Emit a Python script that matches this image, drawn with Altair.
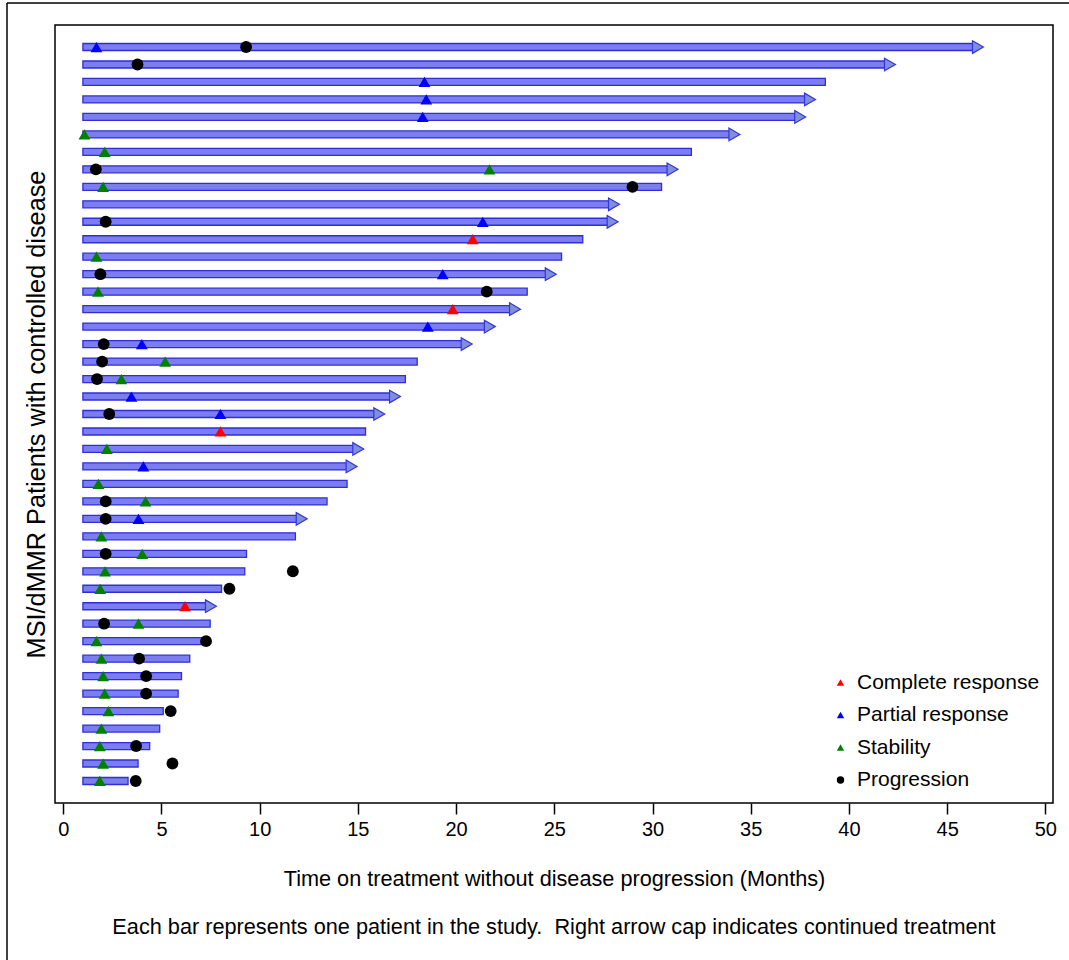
import altair as alt
import pandas as pd

# ---- data ----
rows = list(range(1, 44))
start_month = [1.0] * 43
end_month = [46.85, 42.37, 38.80, 38.30, 37.80, 34.45, 31.98, 31.30, 30.46, 28.32,
             28.25, 26.45, 25.37, 25.10, 23.62, 23.28, 22.00, 20.82, 18.02, 17.42,
             17.17, 16.37, 15.39, 15.30, 14.96, 14.45, 13.43, 12.42, 11.82, 9.33,
             9.24, 8.06, 7.80, 7.48, 7.27, 6.44, 6.02, 5.85, 5.09, 4.91,
             4.40, 3.81, 3.30]
continued = [1, 1, 0, 1, 1, 1, 0, 1, 0, 1,
             1, 0, 0, 1, 0, 1, 1, 1, 0, 0,
             1, 1, 0, 1, 1, 0, 0, 1, 0, 0,
             0, 0, 1, 0, 0, 0, 0, 0, 0, 0,
             0, 0, 0]

event_row = [1, 1, 2, 3, 4, 5, 6, 7, 8, 8, 9, 9, 11, 11, 12, 13, 14, 14, 15, 15,
             16, 17, 18, 18, 19, 19, 20, 20, 21, 22, 22, 23, 24, 25, 26, 27, 27,
             28, 28, 29, 30, 30, 31, 31, 32, 32, 33, 34, 34, 35, 35, 36, 36, 37, 37,
             38, 38, 39, 39, 40, 41, 41, 42, 42, 43, 43]
event_time = [1.69, 9.31, 3.78, 18.39, 18.48, 18.30, 1.08, 2.11, 1.66, 21.70,
              2.03, 28.98, 2.16, 21.36, 20.85, 1.69, 1.89, 19.32, 1.77, 21.56,
              19.83, 18.56, 2.06, 4.00, 1.98, 5.19, 1.72, 2.96, 3.47, 2.34, 8.00,
              8.00, 2.22, 4.08, 1.79, 2.16, 4.19, 2.16, 3.83, 1.94, 2.16, 4.02,
              2.13, 11.69, 1.88, 8.46, 6.20, 2.08, 3.83, 1.69, 7.27, 1.94, 3.86,
              2.03, 4.22, 2.11, 4.22, 2.30, 5.47, 1.94, 1.86, 3.71, 2.03, 5.56,
              1.86, 3.69]
CR, PR, SD, PD = "Complete response", "Partial response", "Stability", "Progression"
event_type = [PR, PD, PD, PR, PR, PR, SD, SD, PD, SD,
              SD, PD, PD, PR, CR, SD, PD, PR, SD, PD,
              CR, PR, PD, PR, PD, SD, PD, SD, PR, PD, PR,
              CR, SD, PR, SD, PD, SD, PD, PR, SD, PD, SD,
              SD, PD, SD, PD, CR, PD, SD, SD, PD, SD, PD,
              SD, PD, SD, PD, SD, PD, SD, SD, PD, SD, PD,
              SD, PD]

legend_order = [CR, PR, SD, PD]
legend_colors = ["#ff0000", "#0000ff", "#008000", "#000000"]
legend_shapes = ["triangle-up", "triangle-up", "triangle-up", "circle"]

x_ticks = list(range(0, 51, 5))
x_title = "Time on treatment without disease progression (Months)"
y_title = "MSI/dMMR Patients with controlled disease"
footnote = ["Each bar represents one patient in the study.\u00a0 Right arrow cap indicates continued treatment"]

bars = pd.DataFrame({"row": rows, "start": start_month, "end": end_month, "cont": continued})
events = pd.DataFrame({"row": event_row, "t": event_time, "type": event_type})
notes = pd.DataFrame({"note": footnote})

REG = "Liberation Sans, Arial, sans-serif"

xscale = alt.Scale(domain=[-0.42, 50.39], nice=False, zero=False, padding=0)
yscale = alt.Scale(domain=[-0.26, 44.26], nice=False, zero=False, reverse=True, padding=0)

xaxis = alt.Axis(values=x_ticks, tickSize=11, tickWidth=1.5, tickColor="black",
                 domain=False, grid=False, labelFont=REG, labelFontSize=20, labelColor="black",
                 labelPadding=5, title=x_title,
                 titleFont=REG, titleFontSize=21.7, titleFontWeight="normal", titleColor="black",
                 titlePadding=29)
yaxis = alt.Axis(labels=False, ticks=False, domain=False, grid=False,
                 title=y_title, titleFont=REG,
                 titleFontSize=25.3, titleFontWeight="normal", titleColor="black", titlePadding=6)

base = alt.Chart(bars)

bar_plain = base.transform_filter("datum.cont == 0").mark_bar(
    orient="horizontal", size=7, fill="#7b7df0", stroke="#2f2fd8", strokeWidth=1.3
).encode(
    x=alt.X("start:Q", scale=xscale, axis=xaxis),
    x2="end:Q",
    y=alt.Y("row:Q", scale=yscale, axis=yaxis),
)
bar_arrow = base.transform_filter("datum.cont == 1").mark_bar(
    orient="horizontal", size=7, fill="#7b7df0", stroke="#2f2fd8", strokeWidth=1.3, x2Offset=-9
).encode(
    x=alt.X("start:Q", scale=xscale),
    x2="end:Q",
    y=alt.Y("row:Q", scale=yscale),
)
arrows = base.transform_filter("datum.cont == 1").mark_point(
    shape="triangle-right", filled=True, size=160, fill="#7f8fdc", stroke="#3535d8",
    strokeWidth=1.2, opacity=1, xOffset=-5.5
).encode(
    x=alt.X("end:Q", scale=xscale),
    y=alt.Y("row:Q", scale=yscale),
)

marks = alt.Chart(events).mark_point(filled=True, opacity=1, size=140).encode(
    x=alt.X("t:Q", scale=xscale),
    y=alt.Y("row:Q", scale=yscale),
    color=alt.Color("type:N", scale=alt.Scale(domain=legend_order, range=legend_colors),
                    legend=alt.Legend(title=None, orient="none", legendX=775, legendY=647,
                                      labelFont=REG, labelFontSize=21, labelColor="black",
                                      labelLimit=0, symbolSize=55, labelOffset=6,
                                      rowPadding=10.5, padding=0)),
    shape=alt.Shape("type:N", scale=alt.Scale(domain=legend_order, range=legend_shapes)),
)

note_text = alt.Chart(notes).mark_text(
    font=REG, fontSize=21.7, color="black", align="center", baseline="middle"
).encode(x=alt.value(499), y=alt.value(902), text="note:N")

border_left = alt.Chart(notes).mark_rule(color="black", strokeWidth=1.5).encode(
    x=alt.value(-48), y=alt.value(-22), y2=alt.value(935))
border_top = alt.Chart(notes).mark_rule(color="black", strokeWidth=1.5).encode(
    x=alt.value(-48), x2=alt.value(1014), y=alt.value(-22))

chart = alt.layer(bar_plain, bar_arrow, arrows, marks, note_text, border_left, border_top).properties(
    width=998, height=778,
    autosize="none",
    background="white",
    padding={"left": 55, "top": 25, "right": 16, "bottom": 157},
).configure_view(stroke="black", strokeWidth=1.5)

chart.save("out.html", embed_options={"renderer": "svg", "actions": False})
